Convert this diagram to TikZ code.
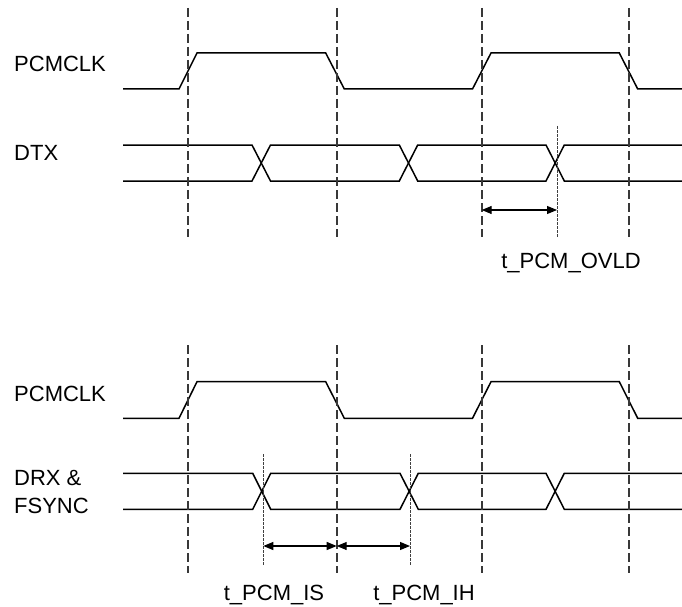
\documentclass[tikz,border=0pt]{standalone}
\usepackage{fontspec}
\setmainfont{Liberation Sans}
\usetikzlibrary{arrows.meta}
\begin{document}
\begin{tikzpicture}[x=1pt,y=-1pt,
  wave/.style={line width=1.5pt,black,line join=miter},
  guide/.style={line width=1.6pt,black!78,dash pattern=on 9pt off 4pt},
  fine/.style={line width=1pt,black!75,dash pattern=on 2.5pt off 1.5pt},
  dim/.style={line width=1.1pt,black,{Triangle[length=10pt,width=8pt]}-{Triangle[length=10pt,width=8pt]}},
  lbl/.style={font=\fontsize{22}{28}\selectfont,inner sep=0pt},
]
\useasboundingbox (0,0) rectangle (682,607);

% ---------- top group ----------
\node[lbl,anchor=base west] (clkA) at (14,71.7) {PCMCLK};
\node[lbl,anchor=base west] (dtx) at (14,160.7) {DTX};

\draw[wave] (123,89) -- (179,89) -- (197,53) -- (325.7,53) -- (344.3,89) -- (472.5,89) -- (491,53) -- (619.3,53) -- (637.7,89) -- (682,89);

% DTX bus
\draw[wave] (123,145) -- (252,145) -- (270.5,181) -- (399.3,181) -- (417.7,145) -- (546,145) -- (564.3,181) -- (682,181);
\draw[wave] (123,181) -- (252,181) -- (270.5,145) -- (399.3,145) -- (417.7,181) -- (546,181) -- (564.3,145) -- (682,145);

% guides
\coordinate (g1t) at (187.7,8);   \coordinate (g1b) at (187.7,237);
\coordinate (g2t) at (336.7,8);   \coordinate (g2b) at (336.7,237);
\coordinate (g3t) at (481.7,8);   \coordinate (g3b) at (481.7,237);
\coordinate (g4t) at (628.7,8);   \coordinate (g4b) at (628.7,237);
\draw[guide] (g1t) -- (g1b);
\draw[guide] (g2t) -- (g2b);
\draw[guide] (g3t) -- (g3b);
\draw[guide] (g4t) -- (g4b);

\coordinate (f1t) at (557,126); \coordinate (f1b) at (557,237);
\draw[fine] (f1t) -- (f1b);

\coordinate (a1l) at (481.7,210); \coordinate (a1r) at (557,210);
\draw[dim] (a1l) -- (a1r);
\node[lbl,anchor=base] (ovld) at (571,268.3) {t\_PCM\_OVLD};

% ---------- bottom group ----------
\node[lbl,anchor=base west] (clkB) at (14,401.7) {PCMCLK};
\node[lbl,anchor=base west] (drx) at (14,485) {DRX \&};
\node[lbl,anchor=base west] (fsync) at (14,513) {FSYNC};

\draw[wave] (123,418.3) -- (179,418.3) -- (197,381.7) -- (325.7,381.7) -- (344.3,418.3) -- (472.5,418.3) -- (491,381.7) -- (619.3,381.7) -- (637.7,418.3) -- (682,418.3);

\draw[wave] (123,473.3) -- (252.7,473.3) -- (270.7,509.3) -- (400,509.3) -- (418.3,473.3) -- (546,473.3) -- (564.3,509.3) -- (682,509.3);
\draw[wave] (123,509.3) -- (252.7,509.3) -- (270.7,473.3) -- (400,473.3) -- (418.3,509.3) -- (546,509.3) -- (564.3,473.3) -- (682,473.3);

\coordinate (h1t) at (187.7,345);   \coordinate (h1b) at (187.7,573);
\coordinate (h2t) at (336.7,345);   \coordinate (h2b) at (336.7,573);
\coordinate (h3t) at (481.7,345);   \coordinate (h3b) at (481.7,573);
\coordinate (h4t) at (628.7,345);   \coordinate (h4b) at (628.7,573);
\draw[guide] (h1t) -- (h1b);
\draw[guide] (h2t) -- (h2b);
\draw[guide] (h3t) -- (h3b);
\draw[guide] (h4t) -- (h4b);

\coordinate (e1t) at (263.3,454); \coordinate (e1b) at (263.3,565);
\coordinate (e2t) at (410,454);   \coordinate (e2b) at (410,565);
\draw[fine] (e1t) -- (e1b);
\draw[fine] (e2t) -- (e2b);

\coordinate (b1) at (263.3,546); \coordinate (b2) at (336.7,546); \coordinate (b3) at (410,546);
\draw[dim] (b1) -- (b2);
\draw[dim] (b2) -- (b3);

\node[lbl,anchor=base] (is) at (274,600.7) {t\_PCM\_IS};
\node[lbl,anchor=base] (ih) at (424,600.7) {t\_PCM\_IH};
\end{tikzpicture}
\end{document}
